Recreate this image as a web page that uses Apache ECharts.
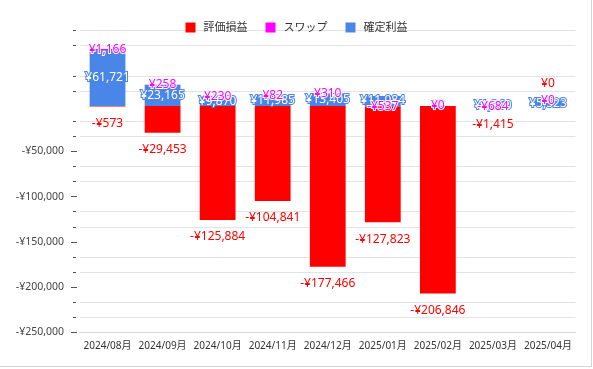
<!DOCTYPE html>
<html>
<head>
<meta charset="utf-8">
<script src="https://cdn.jsdelivr.net/npm/echarts@6/dist/echarts.min.js"></script>
<style>
html,body{margin:0;padding:0;background:#fff;}
#wrap{position:absolute;left:0;top:0;width:591px;height:366px;border-right:1px solid #d4d4d4;border-bottom:1px solid #d4d4d4;}
#chart{width:593px;height:369px;}
</style>
</head>
<body>
<div id="wrap"></div>
<div id="chart" style="position:absolute;left:0;top:0;"></div>
<script>
var categories = ['2024/08月','2024/09月','2024/10月','2024/11月','2024/12月','2025/01月','2025/02月','2025/03月','2025/04月'];
var hyoka = [-573, -29453, -125884, -104841, -177466, -127823, -206846, -1415, 0];
var swap = [1166, 258, 230, 82, 310, -537, 0, -684, 0];
var kakutei = [61721, 23165, 9870, 11985, 13405, 11084, 0, 1360, 5523];
var majorTicks = [-250000, -200000, -150000, -100000, -50000];
var minorTicks = [-233333.33, -216666.67, -183333.33, -166666.67, -133333.33, -116666.67, -83333.33, -66666.67, -33333.33, -16666.67, 16666.67, 33333.33, 66666.67, 83333.33];
var legendNames = ['評価損益', 'スワップ', '確定利益'];

var FONT = "'Noto Sans', 'Noto Sans CJK JP', sans-serif";
function yen(v) {
  var a = Math.abs(Math.round(v)).toString().replace(/\B(?=(\d{3})+(?!\d))/g, ',');
  return (v < 0 ? '-¥' : '¥') + a;
}
var YMIN = -250000, YMAX = 250000 / 3;
var gridColors = [];
for (var i = 0; i <= 20; i++) {
  gridColors.push((i === 15 || i >= 18) ? 'rgba(0,0,0,0)' : '#e3e3e3');
}
var hyokaData = hyoka.map(function (v) {
  return v >= 0 ? {value: v, label: {position: 'top'}} : v;
});

var chart = echarts.init(document.getElementById('chart'), null, {renderer: 'canvas'});
chart.setOption({
  animation: false,
  textStyle: {fontFamily: FONT},
  legend: {
    data: legendNames,
    top: 17, left: 'center',
    icon: 'rect', itemWidth: 10, itemHeight: 10, itemGap: 18,
    textStyle: {fontSize: 11, color: '#333', fontFamily: FONT, padding: [0, 0, 0, 3]}
  },
  grid: {left: 80, right: 17.5, top: 30.5, bottom: 36.5, containLabel: false},
  xAxis: {
    type: 'category', data: categories,
    axisLine: {onZero: false, lineStyle: {color: '#d6d6d6'}},
    axisTick: {show: false},
    axisLabel: {interval: 0, fontSize: 10, color: '#333', margin: 9, fontFamily: FONT}
  },
  yAxis: [{
    type: 'value', min: YMIN, max: YMAX, interval: 50000,
    position: 'left', offset: 3,
    axisLine: {show: false},
    axisTick: {show: true, length: 6, customValues: majorTicks, lineStyle: {color: '#555'}},
    axisLabel: {customValues: majorTicks, fontSize: 10.5, color: '#444', margin: 13, fontFamily: FONT, formatter: function (v) { return yen(v); }},
    splitLine: {show: false}
  }, {
    type: 'value', min: YMIN, max: YMAX, interval: 50000 / 3,
    position: 'left', offset: 4,
    axisLine: {show: false},
    axisTick: {show: true, length: 3, customValues: minorTicks, lineStyle: {color: '#555'}},
    axisLabel: {show: false},
    splitLine: {show: true, lineStyle: {color: gridColors, width: 1}}
  }],
  series: [{
    name: legendNames[2], type: 'bar', stack: 'total', data: kakutei, barWidth: '65%',
    itemStyle: {color: '#4a86e8'},
    label: {show: true, position: 'inside', color: '#fff', textBorderColor: '#4a86e8', textBorderWidth: 2, fontSize: 12, fontFamily: FONT, formatter: function (p) { return yen(p.value); }}
  }, {
    name: legendNames[1], type: 'bar', stack: 'total', data: swap,
    itemStyle: {color: '#ff00ff'},
    label: {show: true, position: 'inside', color: '#ff00ff', textBorderColor: '#fff', textBorderWidth: 2, fontSize: 12, fontFamily: FONT, formatter: function (p) { return yen(p.value); }}
  }, {
    name: legendNames[0], type: 'bar', stack: 'total', data: hyokaData,
    itemStyle: {color: '#ff0000'},
    label: {show: true, position: 'outside', distance: 11, color: '#ff0000', fontSize: 12, fontFamily: FONT, formatter: function (p) { return yen(p.value); }}
  }]
});
</script>
</body>
</html>
